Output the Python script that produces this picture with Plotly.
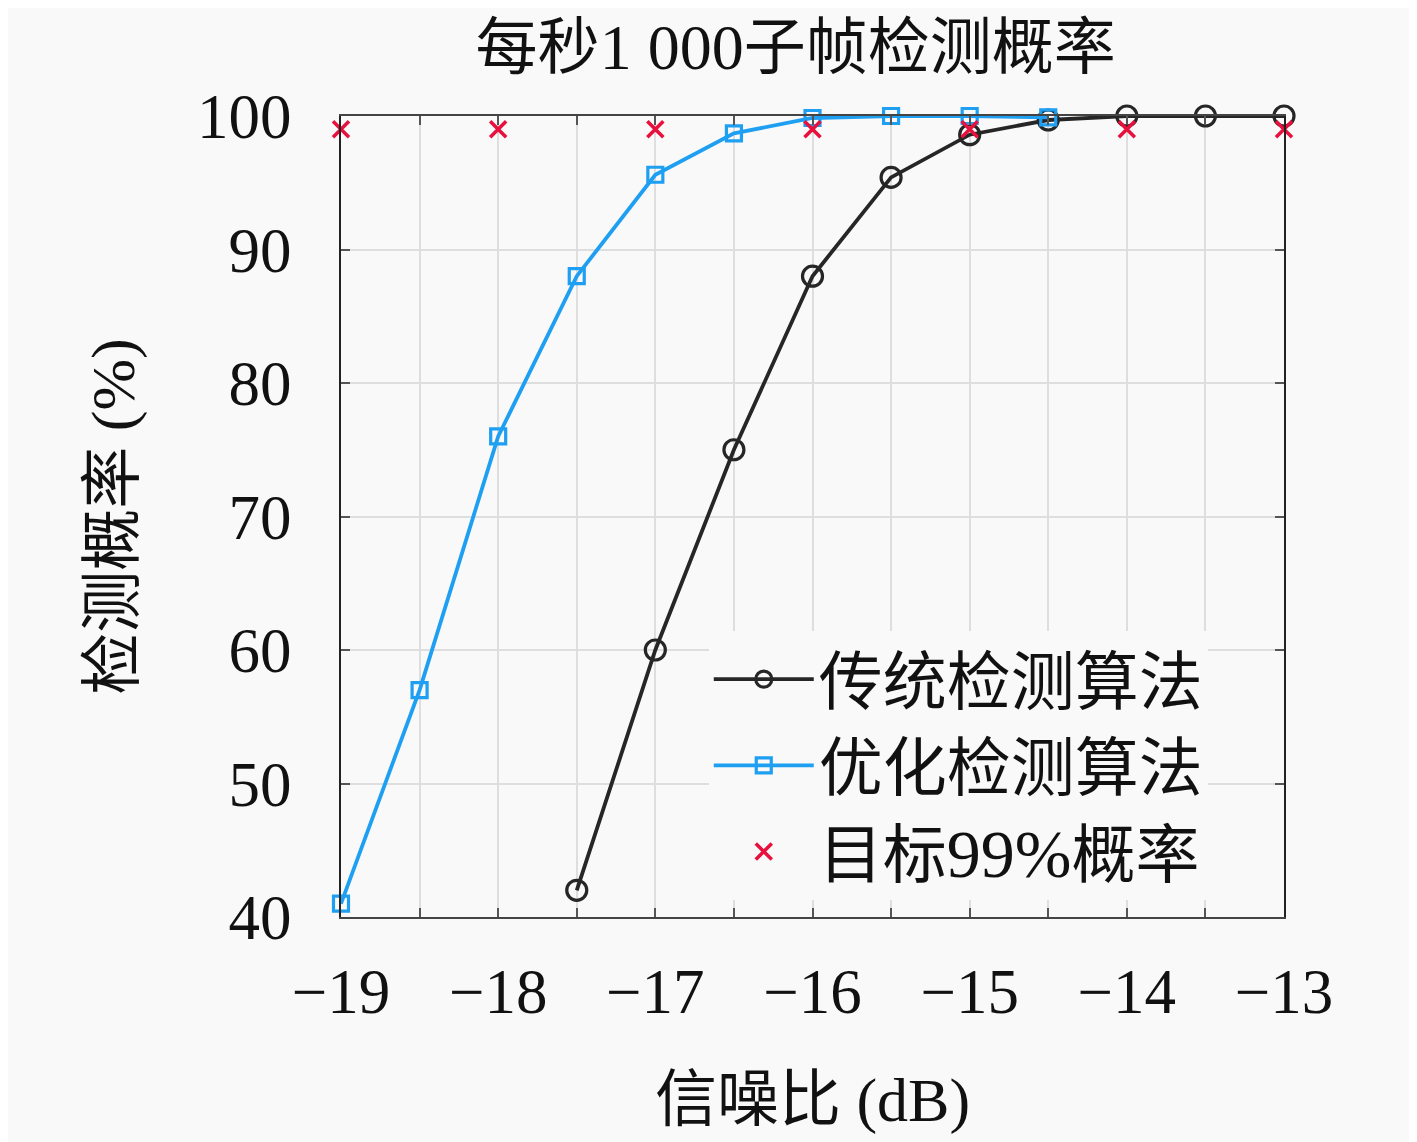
import plotly.graph_objects as go

snr = [-19, -18.5, -18, -17.5, -17, -16.5, -16, -15.5, -15, -14.5, -14, -13.5, -13]
trad_x = [-17.5, -17, -16.5, -16, -15.5, -15, -14.5, -14, -13.5, -13]
trad_y = [42, 60, 75, 88, 95.4, 98.6, 99.7, 100, 100, 100]
opt_x = [-19, -18.5, -18, -17.5, -17, -16.5, -16, -15.5, -15, -14.5]
opt_y = [41, 57, 76, 88, 95.6, 98.7, 99.85, 100, 100, 99.9]
tgt_x = [-19, -18, -17, -16, -15, -14, -13]
tgt_y = [99, 99, 99, 99, 99, 99, 99]
names = ["传统检测算法", "优化检测算法", "目标<span style='font-size:68px'>99%</span>概率"]
x_ticks = snr
x_labels = ["−19", "", "−18", "", "−17", "", "−16", "", "−15", "", "−14", "", "−13"]
y_ticks = [40, 50, 60, 70, 80, 90, 100]
title_text = "每秒<span style='font-size:64px'>1 000</span>子帧检测概率"

FONT = "Liberation Serif, Noto Sans CJK SC, serif"
BG = "#f9f9f9"

fig = go.Figure()
fig.add_trace(go.Scatter(x=trad_x, y=trad_y, name=names[0], mode="lines+markers",
                         line=dict(color="#262626", width=3.8),
                         marker=dict(symbol="circle-open", size=20, color="#262626", line=dict(width=3.2)),
                         cliponaxis=False))
fig.add_trace(go.Scatter(x=opt_x, y=opt_y, name=names[1], mode="lines+markers",
                         line=dict(color="#1e9ff2", width=3.8),
                         marker=dict(symbol="square-open", size=15, color="#1e9ff2", line=dict(width=3.2)),
                         cliponaxis=False))
fig.add_trace(go.Scatter(x=tgt_x, y=tgt_y, name=names[2], mode="markers",
                         marker=dict(symbol="x-thin-open", size=16, color="#e8103c", line=dict(width=3.5)),
                         cliponaxis=False))

fig.update_layout(
    width=1409, height=1134,
    paper_bgcolor=BG, plot_bgcolor=BG,
    margin=dict(l=333, r=133, t=108, b=225),
    font=dict(family=FONT, size=60, color="#111"),
    title=dict(text=title_text, x=0.559, xanchor="center", y=0.965, yanchor="middle",
               font=dict(family=FONT, size=62, color="#111")),
    showlegend=True,
    legend=dict(x=0.39, y=0.357, xanchor="left", yanchor="top", bgcolor=BG,
                borderwidth=0, font=dict(family=FONT, size=64, color="#111"),
                itemwidth=100, tracegroupgap=0),
)
fig.update_xaxes(range=[-19, -13], tickmode="array", tickvals=x_ticks, ticktext=x_labels,
                 showgrid=True, gridcolor="#dedede", gridwidth=1.5, zeroline=False,
                 showline=True, linecolor="#444", linewidth=2, mirror="ticks",
                 ticks="inside", ticklen=9, tickcolor="#555", tickwidth=1.5,
                 ticklabelstandoff=18,
                 tickfont=dict(family=FONT, size=63, color="#111"),
                 title=dict(text="信噪比 (dB)", font=dict(family=FONT, size=62, color="#111"), standoff=52))
fig.update_yaxes(range=[40, 100], tickmode="array", tickvals=y_ticks,
                 showgrid=True, gridcolor="#dedede", gridwidth=1.5, zeroline=False,
                 showline=True, linecolor="#222", linewidth=2, mirror="ticks",
                 ticks="inside", ticklen=9, tickcolor="#555", tickwidth=1.5,
                 ticklabelstandoff=35,
                 tickfont=dict(family=FONT, size=63, color="#111"),
                 title=dict(text="检测概率 (%)", font=dict(family=FONT, size=62, color="#111"), standoff=42))

fig.write_html("out.html")
